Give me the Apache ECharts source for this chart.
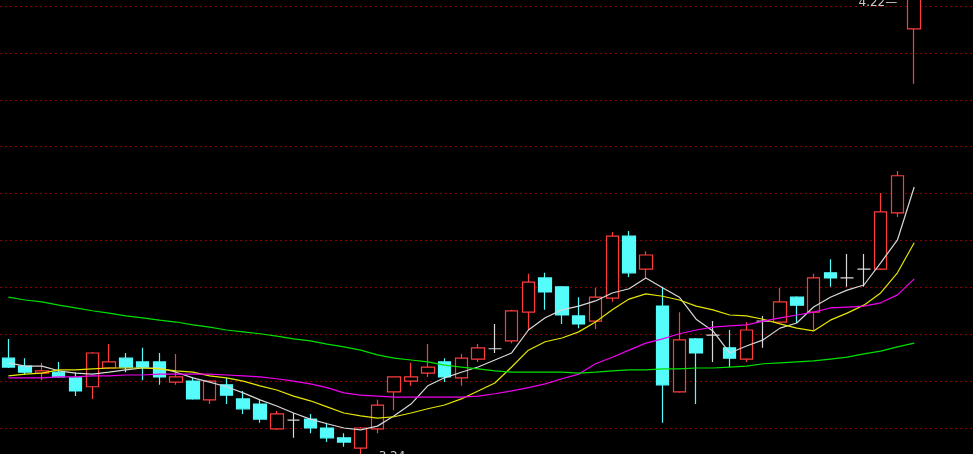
<!DOCTYPE html>
<html>
<head>
<meta charset="utf-8">
<script src="https://cdn.jsdelivr.net/npm/echarts@6/dist/echarts.min.js"></script>
<style>
html,body{margin:0;padding:0;background:#000;overflow:hidden;width:973px;height:454px;}
#wrap{position:relative;width:973px;height:454px;overflow:hidden;}
#chart{position:absolute;left:0;top:-41px;width:973px;height:516px;}
</style>
</head>
<body>
<div id="wrap"><div id="chart"></div></div>
<script>
var categories = [];
for (var i = 1; i <= 55; i++) categories.push(String(i));

var openPrices = [3.449,3.432,3.417,3.419,3.407,3.388,3.428,3.449,3.441,3.441,
 3.398,3.400,3.360,3.392,3.362,3.351,3.298,3.317,3.319,3.300,
 3.279,3.257,3.298,3.377,3.400,3.417,3.441,3.407,3.447,3.469,
 3.486,3.547,3.620,3.601,3.539,3.528,3.577,3.709,3.639,3.560,
 3.377,3.490,3.498,3.471,3.447,3.528,3.526,3.579,3.547,3.631,
 3.620,3.639,3.639,3.759,4.151];
var closePrices = [3.430,3.419,3.422,3.409,3.379,3.460,3.441,3.430,3.430,3.409,
 3.409,3.362,3.400,3.370,3.341,3.319,3.330,3.317,3.300,3.279,
 3.270,3.300,3.349,3.409,3.409,3.430,3.409,3.449,3.471,3.469,
 3.550,3.611,3.590,3.541,3.522,3.579,3.709,3.631,3.669,3.392,
 3.488,3.460,3.498,3.449,3.509,3.528,3.569,3.562,3.620,3.620,
 3.620,3.639,3.761,3.838,4.220];
var lowPrices = [3.428,3.413,3.402,3.407,3.368,3.362,3.426,3.419,3.402,3.392,
 3.392,3.360,3.351,3.351,3.330,3.311,3.296,3.279,3.289,3.270,
 3.260,3.238,3.289,3.338,3.390,3.409,3.398,3.390,3.441,3.460,
 3.481,3.509,3.552,3.522,3.513,3.511,3.569,3.622,3.620,3.311,
 3.375,3.351,3.441,3.430,3.441,3.471,3.524,3.524,3.509,3.601,
 3.601,3.601,3.637,3.750,4.034];
var highPrices = [3.490,3.449,3.439,3.441,3.419,3.462,3.479,3.460,3.471,3.460,
 3.458,3.409,3.402,3.407,3.379,3.360,3.336,3.332,3.330,3.311,
 3.289,3.302,3.360,3.409,3.439,3.479,3.449,3.458,3.479,3.522,
 3.552,3.629,3.631,3.603,3.579,3.599,3.718,3.720,3.677,3.601,
 3.547,3.492,3.528,3.509,3.526,3.539,3.599,3.581,3.629,3.660,
 3.671,3.671,3.801,3.848,4.220];

var ma5 = [3.439,3.432,3.432,3.422,3.417,3.415,3.419,3.424,3.428,3.428,
 3.419,3.407,3.398,3.388,3.375,3.360,3.347,3.332,3.319,3.309,
 3.300,3.296,3.304,3.326,3.351,3.390,3.407,3.419,3.430,3.445,
 3.460,3.509,3.535,3.552,3.560,3.571,3.588,3.597,3.620,3.599,
 3.579,3.532,3.507,3.460,3.475,3.488,3.513,3.524,3.558,3.579,
 3.594,3.605,3.652,3.701,3.814];
var ma10 = [3.411,3.415,3.417,3.424,3.424,3.426,3.428,3.428,3.428,3.426,
 3.422,3.419,3.411,3.407,3.400,3.390,3.381,3.368,3.358,3.345,
 3.332,3.326,3.321,3.324,3.332,3.341,3.349,3.362,3.379,3.396,
 3.430,3.466,3.484,3.492,3.505,3.526,3.552,3.575,3.586,3.581,
 3.573,3.560,3.552,3.541,3.539,3.532,3.522,3.513,3.507,3.530,
 3.545,3.562,3.588,3.631,3.695];
var ma20 = [3.407,3.407,3.407,3.409,3.409,3.411,3.411,3.413,3.413,3.415,
 3.415,3.415,3.415,3.413,3.411,3.409,3.405,3.400,3.394,3.386,
 3.375,3.370,3.368,3.366,3.366,3.366,3.366,3.366,3.368,3.373,
 3.379,3.386,3.394,3.405,3.415,3.437,3.451,3.466,3.481,3.490,
 3.501,3.509,3.515,3.518,3.520,3.528,3.535,3.541,3.547,3.556,
 3.558,3.560,3.567,3.584,3.618];
var ma60 = [3.579,3.573,3.569,3.562,3.556,3.550,3.545,3.539,3.535,3.530,
 3.526,3.520,3.515,3.509,3.505,3.501,3.496,3.490,3.486,3.479,
 3.473,3.466,3.456,3.449,3.445,3.441,3.434,3.430,3.426,3.422,
 3.419,3.419,3.419,3.419,3.417,3.419,3.422,3.424,3.424,3.426,
 3.426,3.428,3.428,3.430,3.432,3.437,3.439,3.441,3.443,3.447,
 3.451,3.458,3.464,3.473,3.481];

var candleData = openPrices.map(function (o, i) {
  return [o, closePrices[i], lowPrices[i], highPrices[i]];
});

var maxHigh = Math.max.apply(null, highPrices);
var maxIdx = highPrices.indexOf(maxHigh);
var minLow = Math.min.apply(null, lowPrices);
var minIdx = lowPrices.indexOf(minLow);

var chart = echarts.init(document.getElementById('chart'), null, {renderer: 'canvas'});

function maSeries(name, data, color) {
  return {
    name: name, type: 'line', data: data,
    xAxisIndex: 0, yAxisIndex: 0,
    symbol: 'none', showSymbol: false, smooth: false,
    lineStyle: {color: color, width: 1.2},
    z: 3, silent: true
  };
}

var hidden = {axisLine: {show: false}, axisTick: {show: false}, axisLabel: {show: false}};

chart.setOption({
  backgroundColor: '#000000',
  animation: false,
  grid: [
    {left: -1.9, right: 50.4, top: 0.11, bottom: 0.11, containLabel: false},
    {left: 0, right: 0, top: 0.11, bottom: 0.11, containLabel: false}
  ],
  xAxis: [
    Object.assign({type: 'category', data: categories, boundaryGap: true, gridIndex: 0,
      splitLine: {show: false}}, hidden),
    Object.assign({type: 'value', min: 0, max: 1, gridIndex: 1, splitLine: {show: false}}, hidden)
  ],
  yAxis: [
    Object.assign({type: 'value', min: 3.2, max: 4.3, interval: 0.1, gridIndex: 0,
      splitLine: {show: false}}, hidden),
    Object.assign({type: 'value', min: 3.2, max: 4.3, interval: 0.1, gridIndex: 1,
      splitLine: {show: true, lineStyle: {color: '#8a0000', width: 1, type: [2, 3]}}}, hidden)
  ],
  series: [
    {
      name: 'K', type: 'candlestick', data: candleData,
      xAxisIndex: 0, yAxisIndex: 0,
      barWidth: 13, clip: false, z: 2,
      itemStyle: {
        color: '#000000', color0: '#54FCFC',
        borderColor: '#FF3C3C', borderColor0: '#54FCFC',
        borderColorDoji: '#D8D8D8', borderWidth: 1.2
      },
      markPoint: {
        symbol: 'circle', symbolSize: 0, silent: true, animation: false,
        data: [
          {
            coord: [maxIdx, maxHigh], value: maxHigh,
            label: {show: true, position: 'left', distance: 17, offset: [0, 6],
              formatter: maxHigh.toFixed(2) + '\u2014',
              color: '#C8C8C8', fontSize: 12, fontFamily: 'DejaVu Sans'}
          },
          {
            coord: [minIdx, minLow], value: minLow,
            label: {show: true, position: 'right', distance: 6, offset: [0, 0],
              formatter: '\u2014' + minLow.toFixed(2),
              color: '#C8C8C8', fontSize: 12, fontFamily: 'DejaVu Sans'}
          }
        ]
      }
    },
    maSeries('MA5', ma5, '#D8D8D8'),
    maSeries('MA10', ma10, '#E6E600'),
    maSeries('MA20', ma20, '#F000F0'),
    maSeries('MA60', ma60, '#00E000')
  ]
});
</script>
</body>
</html>
